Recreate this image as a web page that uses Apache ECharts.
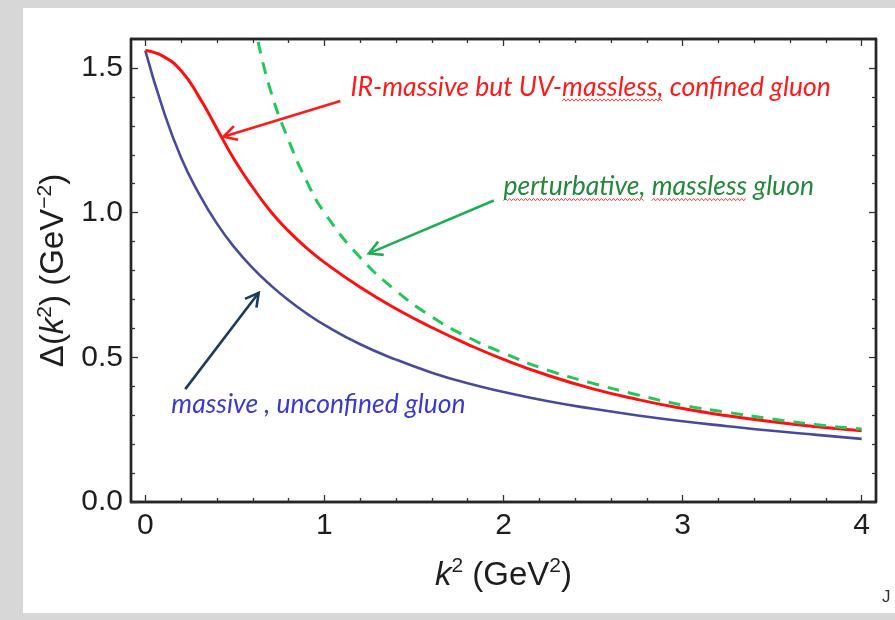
<!DOCTYPE html>
<html>
<head>
<meta charset="utf-8">
<script src="https://cdn.jsdelivr.net/npm/echarts@6/dist/echarts.min.js"></script>
<style>
  html, body { margin: 0; padding: 0; background: #d7d7d7; }
  #chart { width: 895px; height: 620px; }
</style>
</head>
<body>
<div id="chart"></div>
<script>
// Gluon propagator Δ(k²) in GeV⁻² versus k² in GeV²
const k2 = [0, 0.1, 0.2, 0.3, 0.4, 0.5, 0.6, 0.7, 0.8, 0.9, 1.0, 1.2, 1.4, 1.6, 1.8, 2.0, 2.25, 2.5, 2.75, 3.0, 3.25, 3.5, 3.75, 4.0];
const massiveUnconfined = [1.56, 1.355, 1.19, 1.065, 0.962, 0.878, 0.808, 0.749, 0.697, 0.652, 0.612, 0.545, 0.492, 0.447, 0.41, 0.38, 0.348, 0.322, 0.299, 0.279, 0.262, 0.246, 0.232, 0.218];
const confinedGluon = [1.56, 1.54, 1.49, 1.40, 1.29, 1.18, 1.087, 1.004, 0.936, 0.878, 0.828, 0.742, 0.668, 0.603, 0.545, 0.493, 0.437, 0.391, 0.354, 0.323, 0.298, 0.277, 0.26, 0.246];
const k2Perturbative = [0.63, 0.7, 0.8, 0.9, 1.0, 1.2, 1.4, 1.6, 1.8, 2.0, 2.25, 2.5, 2.75, 3.0, 3.25, 3.5, 3.75, 4.0];
const perturbativeGluon = [1.59, 1.42, 1.25, 1.11, 1.0, 0.845, 0.73, 0.64, 0.57, 0.515, 0.455, 0.41, 0.37, 0.335, 0.31, 0.287, 0.267, 0.252];

// tick positions
const xMajorTicks = [0, 1, 2, 3, 4];
const xMinorTicks = [0.2, 0.4, 0.6, 0.8, 1.2, 1.4, 1.6, 1.8, 2.2, 2.4, 2.6, 2.8, 3.2, 3.4, 3.6, 3.8];
const yMajorTicks = [0, 0.5, 1.0, 1.5];
const yMinorTicks = [0.1, 0.2, 0.3, 0.4, 0.6, 0.7, 0.8, 0.9, 1.1, 1.2, 1.3, 1.4];

// annotation labels and their arrows (data coordinates)
const notes = [
  { text: 'IR-massive but UV-massless, confined gluon', color: '#ff1a1a', arrowColor: '#ff1a1a',
    at: [1.145, 1.434], from: [1.089, 1.386], to: [0.436, 1.262], squiggle: ['massless,'] },
  { text: 'perturbative, massless gluon', color: '#23883c', arrowColor: '#1fae55',
    at: [2.0, 1.09], from: [1.946, 1.042], to: [1.248, 0.859], squiggle: ['perturbative,', 'massless'] },
  { text: 'massive , unconfined gluon', color: '#3a3ad0', arrowColor: '#1f3b5c',
    at: [0.145, 0.338], from: [0.223, 0.39], to: [0.633, 0.723], squiggle: [] }
];

const pairs = (xs, ys) => xs.map((x, i) => [x, ys[i]]);
const frameColor = '#262626';
const tickFont = { fontFamily: 'Liberation Sans', fontSize: 30, color: '#1e1e1e' };
const noteFont = 'italic 26.5px Lato';
const X_MIN = -0.08, X_MAX = 4.08, Y_MIN = 0, Y_MAX = 1.6;

const titleRich = {
  i: { fontFamily: 'Liberation Sans', fontStyle: 'italic', fontSize: 33, color: '#1e1e1e', verticalAlign: 'bottom' },
  n: { fontFamily: 'Liberation Sans', fontSize: 33, color: '#1e1e1e', verticalAlign: 'bottom' },
  s: { fontFamily: 'Liberation Sans', fontSize: 21, color: '#1e1e1e', verticalAlign: 'bottom', padding: [0, 0, 15, 0] }
};

function xAxisDef(pos, ticks, len, withLabels, extra) {
  return Object.assign({
    type: 'value', position: pos, min: X_MIN, max: X_MAX,
    axisLine: { show: true, onZero: false, lineStyle: { color: frameColor, width: 2.4 } },
    axisTick: { show: true, inside: true, length: len, customValues: ticks, lineStyle: { color: '#333', width: 1.3 } },
    axisLabel: withLabels ? Object.assign({ customValues: ticks, margin: 9, formatter: v => String(v) }, tickFont) : { show: false },
    splitLine: { show: false }
  }, extra || {});
}
function yAxisDef(pos, ticks, len, withLabels, extra) {
  return Object.assign({
    type: 'value', position: pos, min: Y_MIN, max: Y_MAX,
    axisLine: { show: true, onZero: false, lineStyle: { color: frameColor, width: 2.4 } },
    axisTick: { show: true, inside: true, length: len, customValues: ticks, lineStyle: { color: '#333', width: 1.3 } },
    axisLabel: withLabels ? Object.assign({ customValues: ticks, margin: 8, formatter: v => v.toFixed(1) }, tickFont) : { show: false },
    splitLine: { show: false }
  }, extra || {});
}

const chart = echarts.init(document.getElementById('chart'), null, { renderer: 'canvas' });

const option = {
  animation: false,
  backgroundColor: 'transparent',
  grid: { left: 131, right: 19, top: 39, bottom: 118 },
  xAxis: [
    xAxisDef('bottom', xMajorTicks, 7, true, {
      name: '{i|k}{s|2}{n| (GeV}{s|2}{n|)}',
      nameLocation: 'middle', nameGap: 54,
      nameTextStyle: { rich: titleRich }
    }),
    xAxisDef('bottom', xMinorTicks, 4, false),
    xAxisDef('top', xMajorTicks, 7, false),
    xAxisDef('top', xMinorTicks, 4, false)
  ],
  yAxis: [
    yAxisDef('left', yMajorTicks, 7, true, {
      name: '{n|Δ(}{i|k}{s|2}{n|) (GeV}{s|−2}{n|)}',
      nameLocation: 'middle', nameGap: 60,
      nameTextStyle: { rich: titleRich }
    }),
    yAxisDef('left', yMinorTicks, 4, false),
    yAxisDef('right', yMajorTicks, 7, false),
    yAxisDef('right', yMinorTicks, 4, false)
  ],
  graphic: [
    { type: 'rect', z: -10, silent: true, shape: { x: 23, y: 8, width: 872, height: 605 }, style: { fill: '#ffffff' } },
    { type: 'text', z: 1, silent: true, x: 882, y: 597,
      style: { text: 'J', font: '17px Liberation Sans', fill: '#333', verticalAlign: 'middle' } }
  ],
  series: [
    {
      name: 'massive, unconfined gluon', type: 'line', data: pairs(k2, massiveUnconfined),
      smooth: 0.5, showSymbol: false, z: 3,
      lineStyle: { color: '#4a4a9c', width: 2.6 }
    },
    {
      name: 'IR-massive but UV-massless, confined gluon', type: 'line', data: pairs(k2, confinedGluon),
      smooth: 0.5, showSymbol: false, z: 4,
      lineStyle: { color: '#ff1010', width: 3 }
    },
    {
      name: 'perturbative, massless gluon', type: 'line', data: pairs(k2Perturbative, perturbativeGluon),
      smooth: 0.5, showSymbol: false, z: 5,
      lineStyle: { color: '#22c85a', width: 3, type: [12, 9] }
    }
  ]
};
chart.setOption(option);

// annotations placed from data coordinates
const measureCtx = document.createElement('canvas').getContext('2d');
measureCtx.font = noteFont;
const extraGraphics = [];
const toPx = p => chart.convertToPixel({ xAxisIndex: 0, yAxisIndex: 0 }, p);
notes.forEach(n => {
  const a = toPx(n.from), b = toPx(n.to), t = toPx(n.at);
  const ang = Math.atan2(b[1] - a[1], b[0] - a[0]);
  const head = 15, spread = 0.5;
  const h1 = [b[0] - head * Math.cos(ang - spread), b[1] - head * Math.sin(ang - spread)];
  const h2 = [b[0] - head * Math.cos(ang + spread), b[1] - head * Math.sin(ang + spread)];
  extraGraphics.push({ type: 'line', z: 20, silent: true, shape: { x1: a[0], y1: a[1], x2: b[0], y2: b[1] },
    style: { stroke: n.arrowColor, lineWidth: 2.6 } });
  extraGraphics.push({ type: 'polyline', z: 20, silent: true, shape: { points: [h1, b, h2] },
    style: { stroke: n.arrowColor, lineWidth: 2.6, fill: null, lineJoin: 'miter' } });
  extraGraphics.push({ type: 'text', z: 20, silent: true, x: t[0], y: t[1],
    style: { text: n.text, font: noteFont, fill: n.color, verticalAlign: 'middle', align: 'left' } });
  // spell-check style wavy underline beneath selected words
  n.squiggle.forEach(word => {
    const idx = n.text.indexOf(word);
    const x0 = t[0] + measureCtx.measureText(n.text.slice(0, idx)).width;
    const x1 = x0 + measureCtx.measureText(word).width;
    const yb = t[1] + 13;
    const pts = [];
    for (let x = x0, j = 0; x <= x1; x += 2, j++) pts.push([x, yb + (j % 2 ? -1.2 : 1.2)]);
    extraGraphics.push({ type: 'polyline', z: 19, silent: true, shape: { points: pts },
      style: { stroke: '#ff4040', lineWidth: 1, fill: null } });
  });
});
chart.setOption({ graphic: option.graphic.concat(extraGraphics) });
</script>
</body>
</html>
